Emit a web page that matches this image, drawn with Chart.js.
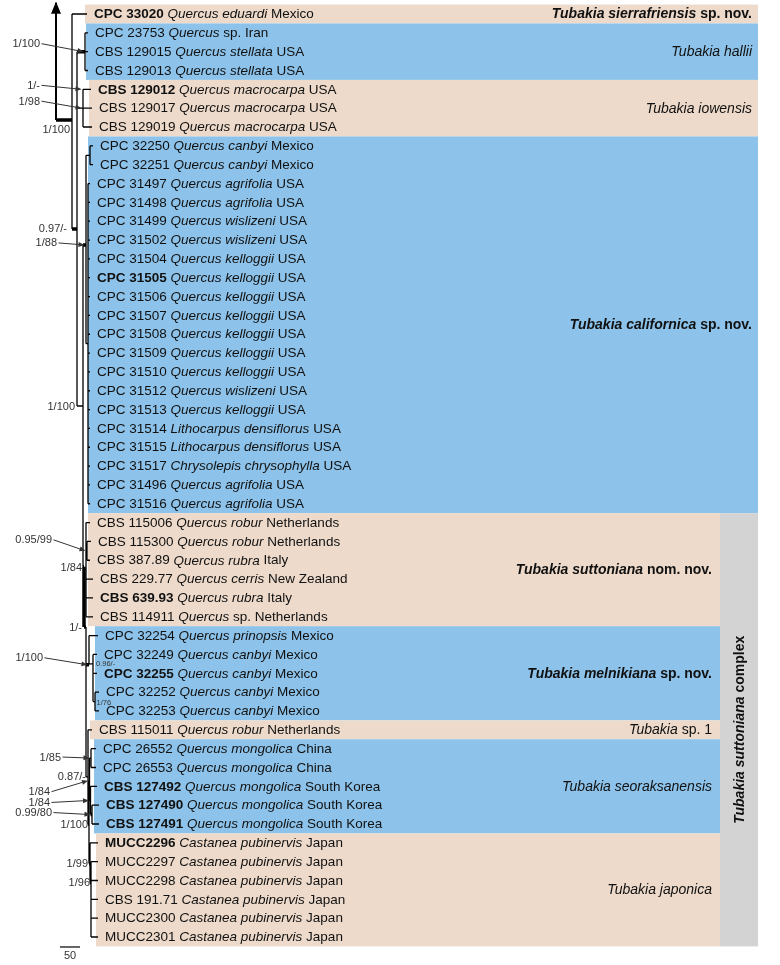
<!DOCTYPE html>
<html><head><meta charset="utf-8">
<script src="https://cdn.jsdelivr.net/npm/chart.js@4.4.1/dist/chart.umd.min.js"></script>
<style>html,body{margin:0;padding:0;background:#fff}#wrap{width:780px;height:965px;position:relative}</style>
</head><body><div id="wrap"><canvas id="c"></canvas></div>
<script>
// ================= DATA =================
const strains = ['CPC 33020','CPC 23753','CBS 129015','CBS 129013','CBS 129012','CBS 129017','CBS 129019',
 'CPC 32250','CPC 32251','CPC 31497','CPC 31498','CPC 31499','CPC 31502','CPC 31504','CPC 31505','CPC 31506',
 'CPC 31507','CPC 31508','CPC 31509','CPC 31510','CPC 31512','CPC 31513','CPC 31514','CPC 31515','CPC 31517',
 'CPC 31496','CPC 31516','CBS 115006','CBS 115300','CBS 387.89','CBS 229.77','CBS 639.93','CBS 114911',
 'CPC 32254','CPC 32249','CPC 32255','CPC 32252','CPC 32253','CBS 115011','CPC 26552','CPC 26553',
 'CBS 127492','CBS 127490','CBS 127491','MUCC2296','MUCC2297','MUCC2298','CBS 191.71','MUCC2300','MUCC2301'];
const hosts = ['Quercus eduardi','Quercus sp.','Quercus stellata','Quercus stellata','Quercus macrocarpa','Quercus macrocarpa','Quercus macrocarpa',
 'Quercus canbyi','Quercus canbyi','Quercus agrifolia','Quercus agrifolia','Quercus wislizeni','Quercus wislizeni','Quercus kelloggii','Quercus kelloggii','Quercus kelloggii',
 'Quercus kelloggii','Quercus kelloggii','Quercus kelloggii','Quercus kelloggii','Quercus wislizeni','Quercus kelloggii','Lithocarpus densiflorus','Lithocarpus densiflorus','Chrysolepis chrysophylla',
 'Quercus agrifolia','Quercus agrifolia','Quercus robur','Quercus robur','Quercus rubra','Quercus cerris','Quercus rubra','Quercus sp.',
 'Quercus prinopsis','Quercus canbyi','Quercus canbyi','Quercus canbyi','Quercus canbyi','Quercus robur','Quercus mongolica','Quercus mongolica',
 'Quercus mongolica','Quercus mongolica','Quercus mongolica','Castanea pubinervis','Castanea pubinervis','Castanea pubinervis','Castanea pubinervis','Castanea pubinervis','Castanea pubinervis'];
const countries = ['Mexico','Iran','USA','USA','USA','USA','USA',
 'Mexico','Mexico','USA','USA','USA','USA','USA','USA','USA',
 'USA','USA','USA','USA','USA','USA','USA','USA','USA',
 'USA','USA','Netherlands','Netherlands','Italy','New Zealand','Italy','Netherlands',
 'Mexico','Mexico','Mexico','Mexico','Mexico','Netherlands','China','China',
 'South Korea','South Korea','South Korea','Japan','Japan','Japan','Japan','Japan','Japan'];
const boldStrains = [0,4,14,31,35,41,42,43,44];   // ex-type strains

// tip depth (tree units, scale bar = 50) and parent node of each tip
const tipDepth = [77.5,80,80,80,87.5,90,90,92.5,92.5,
 85,85,85,85,85,85,85,85,85,85,85,85,85,85,85,85,85,85,
 85,87.5,85,92.5,92.5,92.5, 105,102.5,102.5,107.5,107.5, 90, 100,100,102.5,107.5,107.5, 105,105,105,105,105,105];
const tipParent = ['N1','H','H','H','I','I','I','C1','C1',
 'C2','C2','C2','C2','C2','C2','C2','C2','C2','C2','C2','C2','C2','C2','C2','C2','C2','C2',
 'Ssut','Sa','Sa','Ssut','Ssut','Ssut','Mel','Mel2','Mel2','Mel3','Mel3','K3','Seo1','Seo1','Seo2','Seo3','Seo3',
 'Jap','Jap1','Jap1','Jap1','Jap1','Jap1'];

// internal nodes: name, parent, depth (tree units), vertical position (row units)
const nodeNames  = ['R','N1','N2','H','I','N4','C','C1','C2','K','Ssut','Sa','K2','Mel','Mel2','Mel3','K3','K4','Seo','Seo1','Seo2','Seo3','Jap','Jap1'];
const nodeParent = [null,'R','N1','N2','N2','N2','N4','C','C','N4','K','Ssut','K','K2','Mel','Mel2','K2','K3','K4','Seo','Seo','Seo2','K4','Jap'];
const nodeDepth  = [0,40,52.5,72.5,67.5,67.5,75,85,80,70,75,77.5,75,82.5,92.5,97.5,80,82.5,83.75,87.5,86.25,90,85,87.5];
const nodeRow    = [5.63,5.63,11.41,2,5,20.81,12.26,7.5,17.5,29.35,29.5,28.5,32.54,34.55,34.5,36.5,40.5,43,40.7,39.5,41.75,42.5,45.1,46.1];
const thickBranches = ['N1','N2','H','C','K','K2','Mel','K4','Jap','Jap1','Seo3'];
const thickVerticals = ['K'];
const outgroupRow = -0.6;   // truncated outgroup branch (arrow)

// posterior probability / bootstrap support
const supportText = ['1/100','1/-','1/98','1/100','0.97/-','1/88','1/100','0.95/99','1/84','1/-','1/100','0.96/-','1/76',
 '1/85','0.87/-','1/84','1/84','0.99/80','1/100','1/99','1/96'];
const supportNode = ['H','T4','I','N1','N2','C','N4','Sa','K','K2','Mel','Mel2','Mel3','Seo1','K3','Seo','Seo2','Seo3','K4','Jap','Jap1'];

// clades
const cladeNames  = ['Tubakia sierrafriensis','Tubakia hallii','Tubakia iowensis','Tubakia californica','Tubakia suttoniana',
 'Tubakia melnikiana','Tubakia','Tubakia seoraksanensis','Tubakia japonica'];
const cladeSuffix = [' sp. nov.','','',' sp. nov.',' nom. nov.',' sp. nov.',' sp. 1','',''];
const cladeBold   = [true,false,false,true,true,true,false,false,false];
const cladeFirst  = [0,1,4,7,27,33,38,39,44];
const cladeLast   = [0,3,6,26,32,37,38,43,49];
const complexName = ['Tubakia suttoniana',' complex'];
const complexFirst = 27, complexLast = 49;
const scaleBarValue = 50, scaleBarLabel = '50';

// ================= LAYOUT / STYLE =================
const COL = {blue:'#8DC3EA', tan:'#EDDACA', gray:'#D3D3D4', text:'#111', support:'#333'};
const cladeColor = ['tan','blue','tan','blue','tan','blue','tan','blue','tan'];
const cladeInComplex = [false,false,false,false,true,true,true,true,true];
const L = {outerRight:758, innerRight:720, outerLabel:752, innerLabel:712, tipGap:7, boxPad:9,
  rowsMin:-0.7432, rowsMax:50.486, xMin:-140, xMax:1810, scaleBarStart:10, scaleBarRow:49.53};
// label offsets (px) relative to the node each support value refers to, arrow?, small?
const supportLayout = [[-45,-8,1,0],[-43,-4,1,0],[-43,-7,1,0],[-2,9,0,0],[-10,0,0,0],[-29,-2,1,0],[-8,0,0,0],
 [-35,-11,1,0],[-2,1,0,0],[-4,1,0,0],[-46,-7,1,0],[3,0,0,1],[1.5,1,0,1],[-30,-1,1,0],[-2,0,0,0],
 [-39.5,11,1,0],[-40.5,2,1,0],[-40,-2,1,0],[-1,0,0,0],[-2,0,0,0],[-1,0,0,0]];

// ================= TREE GEOMETRY =================
const nodes = {};
nodeNames.forEach((n,i)=>nodes[n]={x:nodeDepth[i],y:nodeRow[i],parent:nodeParent[i],children:[]});
strains.forEach((s,i)=>nodes['T'+i]={x:tipDepth[i],y:i,parent:tipParent[i],children:[],tip:true});
for (const k in nodes) if (nodes[k].parent) nodes[nodes[k].parent].children.push(k);
const thin=[], thick=[];
const seg=(arr,x1,y1,x2,y2)=>arr.push({x:x1,y:y1},{x:x2,y:y2},{x:null,y:null});
for (const k in nodes){
  const n=nodes[k];
  if (n.parent){ const p=nodes[n.parent]; seg(thickBranches.includes(k)?thick:thin,p.x,n.y,n.x,n.y); }
  if (n.children.length){
    const ys=n.children.map(c=>nodes[c].y).concat([n.y]);
    const a=Math.min(...ys), b=Math.max(...ys);
    if (b>a) seg(thickVerticals.includes(k)?thick:thin,n.x,a,n.x,b);
  }
}
const rootLine=[{x:nodes.R.x,y:nodes.R.y},{x:nodes.R.x,y:outgroupRow}];

// ================= DRAW HELPERS =================
const FF='"Liberation Sans", Arial, sans-serif';
function font(sz,b,i){return (i?'italic ':'')+(b?'bold ':'')+sz+'px '+FF;}
function rich(ctx,parts,x,y,align){
  let w=0; parts.forEach(p=>{ctx.font=p.f; p.w=ctx.measureText(p.t).width; w+=p.w;});
  let cx = align==='right'? x-w : align==='center'? x-w/2 : x;
  ctx.textAlign='left'; ctx.textBaseline='middle';
  parts.forEach(p=>{ctx.font=p.f; ctx.fillText(p.t,cx,y); cx+=p.w;});
}
function tipLabelX(xs,i){return xs.getPixelForValue(tipDepth[i])+L.tipGap;}

const bgPlugin={id:'bg',beforeDatasetsDraw(chart){
  const ctx=chart.ctx, xs=chart.scales.x, ys=chart.scales.y;
  ctx.save();
  cladeNames.forEach((nm,c)=>{
    let minX=1e9; for(let i=cladeFirst[c];i<=cladeLast[c];i++) minX=Math.min(minX,tipLabelX(xs,i));
    const left=Math.round(minX-L.boxPad);
    const top=ys.getPixelForValue(cladeFirst[c]-0.5), bot=ys.getPixelForValue(cladeLast[c]+0.5);
    const right=cladeInComplex[c]?L.innerRight:L.outerRight;
    ctx.fillStyle=COL[cladeColor[c]]; ctx.fillRect(left,top,right-left,bot-top);
  });
  const t=ys.getPixelForValue(complexFirst-0.5), b=ys.getPixelForValue(complexLast+0.5);
  ctx.fillStyle=COL.gray; ctx.fillRect(L.innerRight,t,L.outerRight-L.innerRight,b-t);
  ctx.restore();
}};

const textPlugin={id:'txt',afterDatasetsDraw(chart){
  const ctx=chart.ctx, xs=chart.scales.x, ys=chart.scales.y;
  ctx.save(); ctx.fillStyle=COL.text;
  // tip labels
  strains.forEach((s,i)=>{
    const h=hosts[i]; const parts=[{t:s,f:font(13.5,boldStrains.includes(i),false)}];
    if (h.endsWith(' sp.')) { parts.push({t:' '+h.slice(0,-4),f:font(13.5,false,true)},{t:' sp.',f:font(13.5,false,false)}); }
    else parts.push({t:' '+h,f:font(13.5,false,true)});
    parts.push({t:' '+countries[i],f:font(13.5,false,false)});
    rich(ctx,parts,tipLabelX(xs,i),ys.getPixelForValue(i)+0.5);
  });
  // clade labels
  cladeNames.forEach((nm,c)=>{
    const y=ys.getPixelForValue((cladeFirst[c]+cladeLast[c])/2)+0.5;
    const parts=[{t:nm,f:font(14,cladeBold[c],true)}];
    if (cladeSuffix[c]) parts.push({t:cladeSuffix[c],f:font(14,cladeBold[c],false)});
    rich(ctx,parts,cladeInComplex[c]?L.innerLabel:L.outerLabel,y,'right');
  });
  // complex label (vertical)
  ctx.save();
  ctx.translate((L.innerRight+L.outerRight)/2+1, ys.getPixelForValue((complexFirst+complexLast)/2));
  ctx.rotate(-Math.PI/2);
  rich(ctx,[{t:complexName[0],f:font(14,true,true)},{t:complexName[1],f:font(14,true,false)}],0,0,'center');
  ctx.restore();
  // support values
  ctx.fillStyle=COL.support; ctx.strokeStyle=COL.support; ctx.lineWidth=1;
  supportText.forEach((txt,i)=>{
    const n=nodes[supportNode[i]]; const [dx,dy,arrow,small]=supportLayout[i];
    let nx=xs.getPixelForValue(n.tip?nodes[n.parent].x:n.x), ny=ys.getPixelForValue(n.y);
    const lx=nx+dx, ly=ny+dy;
    ctx.font=small?font(7.5,false,false):font(11,false,false);
    ctx.textAlign=small?'left':'right'; ctx.textBaseline='middle';
    ctx.fillText(txt,lx,ly+0.5);
    if (arrow){
      const x1=lx+1.5,y1=ly,x2=nx-1.5,y2=ny; const a=Math.atan2(y2-y1,x2-x1);
      ctx.beginPath(); ctx.moveTo(x1,y1); ctx.lineTo(x2-5*Math.cos(a),y2-5*Math.sin(a)); ctx.stroke();
      ctx.beginPath(); ctx.moveTo(x2,y2);
      ctx.lineTo(x2-6*Math.cos(a)+2.5*Math.sin(a),y2-6*Math.sin(a)-2.5*Math.cos(a));
      ctx.lineTo(x2-6*Math.cos(a)-2.5*Math.sin(a),y2-6*Math.sin(a)+2.5*Math.cos(a));
      ctx.closePath(); ctx.fill();
    }
  });
  // root arrow head
  const rx=xs.getPixelForValue(nodes.R.x), ry=ys.getPixelForValue(outgroupRow);
  ctx.fillStyle='#000'; ctx.beginPath(); ctx.moveTo(rx,ry-1); ctx.lineTo(rx-5,ry+11); ctx.lineTo(rx+5,ry+11); ctx.closePath(); ctx.fill();
  // scale bar
  const sx1=xs.getPixelForValue(L.scaleBarStart), sx2=xs.getPixelForValue(L.scaleBarStart+scaleBarValue), sy=ys.getPixelForValue(L.scaleBarRow);
  ctx.strokeStyle='#000'; ctx.lineWidth=1.2; ctx.beginPath(); ctx.moveTo(sx1,sy); ctx.lineTo(sx2,sy); ctx.stroke();
  ctx.fillStyle=COL.support; ctx.font=font(11,false,false); ctx.textAlign='center'; ctx.textBaseline='top';
  ctx.fillText(scaleBarLabel,(sx1+sx2)/2,sy+3);
  ctx.restore();
}};

new Chart(document.getElementById('c'),{
  type:'scatter',
  data:{datasets:[
    {data:thin,showLine:true,borderColor:'#000',borderWidth:1.3,pointRadius:0,spanGaps:false,order:2},
    {data:thick,showLine:true,borderColor:'#000',borderWidth:3.5,pointRadius:0,spanGaps:false,order:1},
    {data:rootLine,showLine:true,borderColor:'#000',borderWidth:2,pointRadius:0,order:0}
  ]},
  options:{responsive:true,maintainAspectRatio:false,animation:false,devicePixelRatio:1,
    layout:{padding:0},
    plugins:{legend:{display:false},tooltip:{enabled:false}},
    scales:{x:{type:'linear',display:false,min:L.xMin,max:L.xMax},
            y:{type:'linear',display:false,reverse:true,min:L.rowsMin,max:L.rowsMax}}},
  plugins:[bgPlugin,textPlugin]
});
</script></body></html>
